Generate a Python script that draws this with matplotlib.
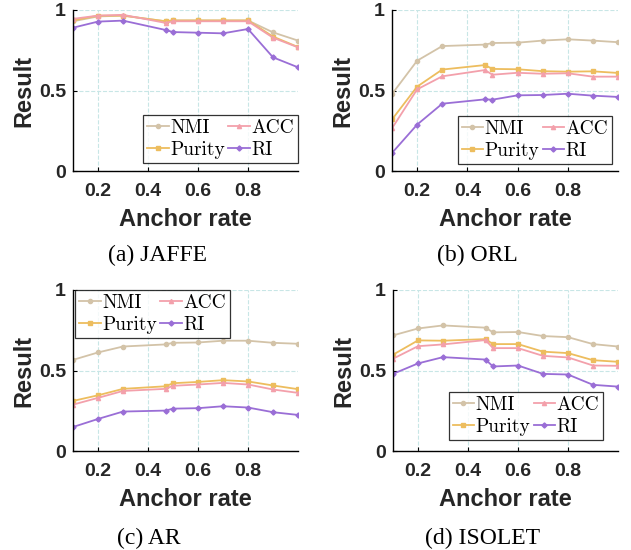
import numpy as np
import matplotlib
matplotlib.use('Agg')
import matplotlib.pyplot as plt

# anchor rates
anchor = [0.1, 0.2, 0.3, 0.47, 0.5, 0.6, 0.7, 0.8, 0.9, 1.0]

# JAFFE
jaffe_nmi = [0.93, 0.96, 0.965, 0.93, 0.935, 0.935, 0.935, 0.935, 0.861, 0.81]
jaffe_acc = [0.945, 0.965, 0.97, 0.92, 0.93, 0.93, 0.93, 0.93, 0.828, 0.768]
jaffe_pur = [0.935, 0.965, 0.965, 0.93, 0.935, 0.935, 0.935, 0.935, 0.835, 0.77]
jaffe_ri = [0.89, 0.928, 0.934, 0.876, 0.863, 0.859, 0.855, 0.882, 0.706, 0.644]

# ORL
orl_nmi = [0.478, 0.685, 0.776, 0.785, 0.795, 0.797, 0.81, 0.818, 0.81, 0.80]
orl_acc = [0.265, 0.507, 0.588, 0.627, 0.598, 0.61, 0.604, 0.607, 0.586, 0.586]
orl_pur = [0.32, 0.524, 0.63, 0.658, 0.634, 0.632, 0.62, 0.617, 0.619, 0.609]
orl_ri = [0.112, 0.288, 0.418, 0.445, 0.443, 0.47, 0.472, 0.48, 0.468, 0.46]

# AR
ar_nmi = [0.566, 0.612, 0.649, 0.662, 0.672, 0.674, 0.685, 0.685, 0.672, 0.666]
ar_acc = [0.288, 0.33, 0.373, 0.386, 0.405, 0.413, 0.423, 0.413, 0.382, 0.361]
ar_pur = [0.311, 0.346, 0.386, 0.402, 0.421, 0.429, 0.44, 0.432, 0.407, 0.384]
ar_ri = [0.149, 0.199, 0.245, 0.251, 0.263, 0.266, 0.278, 0.27, 0.241, 0.224]

# ISOLET
iso_nmi = [0.718, 0.761, 0.78, 0.766, 0.737, 0.739, 0.714, 0.707, 0.664, 0.649]
iso_acc = [0.573, 0.651, 0.662, 0.689, 0.639, 0.639, 0.591, 0.581, 0.531, 0.529]
iso_pur = [0.598, 0.687, 0.685, 0.695, 0.664, 0.664, 0.617, 0.608, 0.564, 0.554]
iso_ri = [0.479, 0.544, 0.583, 0.568, 0.525, 0.531, 0.479, 0.475, 0.411, 0.40]

captions = ['(a) JAFFE', '(b) ORL', '(c) AR', '(d) ISOLET']

c_nmi = '#D3C3A8'
c_acc = '#F3A0AB'
c_pur = '#EDBD5E'
c_ri = '#9A6ED6'

fig = plt.figure(figsize=(6.31, 5.5), dpi=100)

# [left, bottom, width, height] in figure fraction
rects = [
    [73/631, (550-171)/550, 225/631, 161/550],
    [392/631, (550-171)/550, 226/631, 161/550],
    [73/631, (550-451)/550, 225/631, 161/550],
    [393/631, (550-451)/550, 225/631, 161/550],
]
leg_locs = [('lower right', (1.0, 0.05)), ('lower right', (0.975, 0.043)),
            ('upper left', (0.01, 1.0)), ('lower right', (0.935, 0.068))]
cap_pos = [(157/631, 1-255/550), (477/631, 1-255/550),
           (149/631, 1-538/550), (483/631, 1-538/550)]

datasets = [
    (jaffe_nmi, jaffe_acc, jaffe_pur, jaffe_ri),
    (orl_nmi, orl_acc, orl_pur, orl_ri),
    (ar_nmi, ar_acc, ar_pur, ar_ri),
    (iso_nmi, iso_acc, iso_pur, iso_ri),
]

for i, (nmi, acc, pur, ri) in enumerate(datasets):
    ax = fig.add_axes(rects[i])
    kw = dict(lw=1.3, ms=3)
    ax.plot(anchor, nmi, color=c_nmi, marker='o', label='NMI', **kw)
    ax.plot(anchor, pur, color=c_pur, marker='s', label='Purity', **kw)
    ax.plot(anchor, acc, color=c_acc, marker='^', label='ACC', **kw)
    ax.plot(anchor, ri, color=c_ri, marker='D', label='RI', ms=2.6, lw=1.3)

    ax.set_xlim(0.1, 1.0)
    ax.set_ylim(0, 1)
    ax.set_xticks([0.2, 0.4, 0.6, 0.8])
    ax.set_xticklabels(['0.2', '0.4', '0.6', '0.8'])
    ax.set_yticks([0, 0.5, 1])
    ax.set_yticklabels(['0', '0.5', '1'])
    ax.grid(True, ls='--', color='#c8e6e6', lw=0.8)
    ax.set_axisbelow(True)
    for s in ['top', 'right']:
        ax.spines[s].set_visible(False)
    ax.spines['left'].set_linewidth(1.0)
    ax.spines['bottom'].set_linewidth(1.0)
    ax.tick_params(direction='in', length=3, width=0.8, labelsize=14)
    ax.tick_params(axis='x', pad=9)
    ax.tick_params(axis='y', pad=5)
    for lab in ax.get_xticklabels() + ax.get_yticklabels():
        lab.set_fontweight('bold')
        lab.set_fontfamily('Liberation Sans')
        lab.set_color('#262626')
    ax.set_xlabel('Anchor rate', fontsize=17, fontweight='bold',
                  fontfamily='Liberation Sans', color='#262626', va='center')
    ax.xaxis.set_label_coords(0.5, (171-220)/161)
    ax.set_ylabel('Result', fontsize=17, fontweight='bold',
                  fontfamily='Liberation Sans', color='#262626', va='center')
    ax.yaxis.set_label_coords((24-73)/225, 0.5)

    # legend order: NMI, Purity in col 1; ACC, RI in col 2
    h, l = ax.get_legend_handles_labels()
    loc, anchor_pt = leg_locs[i]
    leg = ax.legend(h, l, ncol=2, loc=loc, bbox_to_anchor=anchor_pt,
                    prop={'family': 'cmr10', 'size': 14},
                    frameon=True, fancybox=False, edgecolor='black',
                    borderpad=0.2, handlelength=1.1, handletextpad=0.1,
                    columnspacing=0.15, labelspacing=0.2, borderaxespad=0)
    leg.get_frame().set_linewidth(0.9)

    fig.text(cap_pos[i][0], cap_pos[i][1], captions[i], ha='center', va='center',
             fontsize=17, fontfamily='Liberation Serif')

fig.savefig('out.png', dpi=100)
